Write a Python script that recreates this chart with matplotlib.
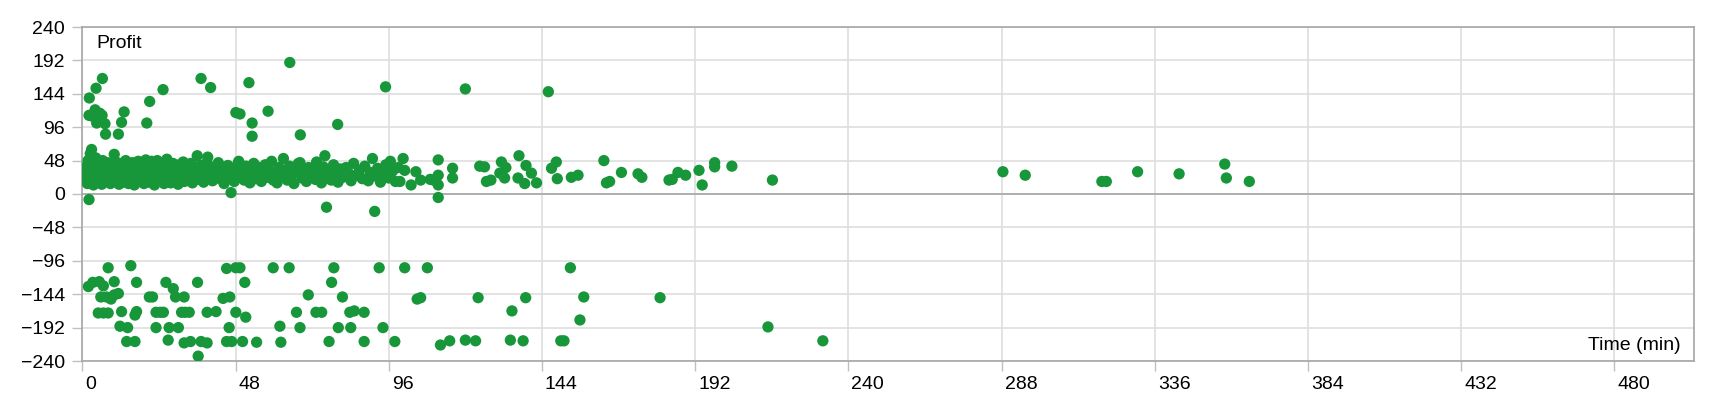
import matplotlib
matplotlib.use('Agg')
import matplotlib.pyplot as plt
import matplotlib.transforms as mtransforms

plt.rcParams['font.family'] = ['Liberation Sans', 'DejaVu Sans']

""" Trades: time in trade (min) and profit """

# dense band of small winners, 0-100 min
band_t = [1.0, 1.2, 1.4, 1.6, 1.8, 2.0, 2.3, 2.5, 2.7, 2.9, 3.1, 3.3, 3.5, 3.8, 4.0, 4.2,
          4.6, 4.9, 5.2, 5.5, 5.8, 6.1, 6.4, 6.7, 7.0, 7.3, 7.6, 7.9, 8.2,
          8.5, 8.8, 9.1, 9.4, 9.7, 10.0, 10.3, 10.6, 10.9, 11.2, 11.5, 11.8, 12.1,
          12.4, 12.7, 13.0, 13.3, 13.6, 13.9, 14.2, 14.5, 14.8, 15.1, 15.4, 15.7, 16.0,
          16.3, 16.6, 16.9, 17.2, 17.5, 17.8, 18.1, 18.4, 18.7, 19.0, 19.3, 19.6, 19.9,
          20.2, 20.5, 20.8, 21.1, 21.4, 21.7, 22.0, 22.3, 22.6, 22.9, 23.2, 23.5, 23.8,
          24.1, 24.4, 24.7, 25.0, 25.3, 25.6, 25.9, 26.2, 26.5, 26.8, 27.1, 27.4, 27.7,
          28.0, 28.4, 28.8, 29.2, 29.6, 30.0, 30.4, 30.8, 31.2, 31.6, 32.0, 32.4,
          32.8, 33.2, 33.6, 34.0, 34.5, 35.0, 35.5, 36.0, 36.5, 37.0, 37.5, 38.0, 38.5, 39.0, 39.3, 39.6,
          40.2, 40.8, 41.4, 42.0, 42.6, 43.2, 43.8, 44.4, 45.0, 45.6, 46.2, 46.6, 47.0, 47.6, 48.2,
          48.8, 49.0, 49.5, 50.1, 50.7, 51.3, 51.9, 52.5, 53.1, 53.7, 54.3, 54.9, 55.5,
          56.1, 56.7, 57.3, 57.9, 58.5, 59.3, 59.8, 60.4, 61.0, 61.6, 62.2, 63.0, 63.5,
          64.2, 64.9, 65.6, 66.3, 67.0, 67.7, 68.2, 68.8, 69.5, 70.2, 70.9, 71.6, 72.3,
          73.0, 73.4, 74.2, 74.9, 75.5, 76.0, 76.5, 77.2, 78.0, 78.7, 79.4, 80.1,
          80.8, 81.6, 82.6, 83.4, 84.2, 85.0, 85.9, 86.8, 87.7, 88.5, 89.6, 90.2, 90.9,
          91.6, 92.5, 93.4, 94.2, 95.1, 96.0, 96.5, 97.2, 98.1, 99.0]
band_p = [22, 31, 40, 15, 48, 26, 35, 58, 19, 64, 44, 29, 13, 38, 22, 52,
          33, 17, 43, 27, 36, 14, 48, 24, 31, 40, 19, 45, 28,
          36, 15, 23, 42, 32, 57, 18, 46, 27, 38, 14, 33, 22,
          44, 29, 17, 37, 48, 24, 32, 15, 41, 27, 20, 45, 34,
          13, 39, 25, 30, 47, 18, 36, 22, 43, 28, 15, 38, 49,
          24, 33, 17, 42, 28, 47, 20, 35, 13, 40, 26, 48, 31,
          19, 38, 44, 23, 29, 15, 42, 35, 50, 21, 27, 38, 16,
          32, 44, 20, 27, 37, 14, 42, 24, 33, 46, 18, 28,
          38, 22, 31, 44, 16, 27, 36, 55, 21, 41, 30, 17, 35, 45, 53, 24,
          32, 19, 39, 27, 45, 22, 34, 15, 29, 41, 24, 2, 36, 18, 30,
          44, 47, 25, 35, 20, 40, 28, 16, 33, 44, 22, 30, 38,
          18, 27, 42, 24, 34, 47, 20, 30, 16, 38, 25, 51, 32,
          20, 40, 27, 15, 35, 44, 45, 23, 31, 18, 38, 26, 34,
          21, 46, 30, 16, 39, 55, 25, 33, 20, 42, 28, 17,
          36, 24, 38, 30, 19, 44, 27, 34, 22, 40, 19, 31, 51,
          26, 37, 17, 29, 42, 23, 47, 33, 18, 38]

# longer trades, 100 min and up
long_t = [100.5, 101, 99.5, 103, 104.5, 106, 109, 110, 111.5, 111.5, 111.5, 116, 116,
          124.5, 126, 126.6, 128, 131.3, 132.7, 130.8, 132.3, 136.8, 139, 136.5, 138.6,
          140.7, 142.3, 147, 148.5, 148.8, 153.2, 155.3, 163.4, 164.2, 165.2, 168.9,
          174.1, 175.3, 183.8, 184.8, 186.6, 189, 193.2, 194.2, 198.1, 198.1, 203.5, 216.2,
          288.4, 295.4, 319.4, 320.8, 330.6, 343.6, 357.9, 358.4, 365.6]
long_p = [51, 34, 18, 13, 32, 20, 21, 20, 49, 27, 13, 37, 23,
          40, 39, 18, 20, 46, 38, 30, 23, 55, 41, 23, 15,
          30, 16, 37, 46, 22, 24, 27, 48, 16, 18, 31,
          29, 24, 20, 21, 31, 27, 34, 13, 45, 39, 40, 20,
          32, 27, 18, 18, 32, 29, 43, 23, 18]

# big winners and small losers
pos_t = [2.2, 4.3, 6.3, 2.1, 3.0, 4.0, 4.6, 5.5, 6.2, 4.5, 7.1, 7.3, 11.3, 12.3, 13.1,
         20.2, 21.1, 25.3, 37.2, 40.2, 48.1, 49.4, 52.2, 53.2, 53.2, 58.2, 65.0, 68.3,
         80.0, 95.0, 120.0, 146.0,
         2.1, 76.5, 91.6, 111.5]
pos_p = [138, 152, 166, 113, 112, 121, 113, 116, 113, 102, 101, 86, 86, 103, 118,
         102, 133, 150, 166, 153, 117, 115, 160, 102, 83, 119, 189, 85,
         100, 154, 151, 147,
         -8, -19, -25, -5]

# losing trades
neg_t = [1.9, 3.3, 5.3, 6.6, 5.8, 5.0, 6.6, 8.1, 8.1, 7.6, 9.0, 10.0, 10.0, 11.3, 12.3,
         11.8, 14.2, 15.2, 17.0, 17.0, 16.5, 13.9, 16.5, 21.0, 22.0, 23.1, 23.1, 24.4,
         25.4, 26.2, 26.9, 27.2, 28.5, 29.2, 31.9, 30.1, 31.1, 32.2, 33.5, 31.9, 33.9,
         36.1, 36.3, 37.2, 39.1, 39.1, 41.9, 44.1, 45.2, 46.2, 46.0, 45.2, 46.8, 48.1,
         48.1, 49.4, 50.9, 51.2, 50.2, 54.6, 59.8, 61.9, 62.2, 64.8, 67.1, 68.2, 70.8,
         73.2, 75.0, 77.3, 78.1, 78.8, 81.5, 80.2, 83.8, 85.2, 84.1, 88.3, 88.3, 93.0,
         94.2, 97.9, 101.0, 108.1, 104.9, 106.0, 112.2, 115.1, 120.0, 123.2, 124.0,
         134.1, 138.1, 134.6, 138.9, 149.9, 150.9, 152.9, 157.1, 155.9, 181.0, 214.8, 232.0]
neg_p = [-133, -127, -126, -132, -148, -171, -171, -171, -106, -148, -151, -126, -145, -143, -169,
         -190, -192, -103, -127, -169, -174, -212, -212, -148, -148, -192, -170, -170,
         -170, -127, -210, -192, -136, -148, -148, -192, -170, -170, -170, -214, -212,
         -127, -233, -212, -214, -170, -169, -150, -107, -148, -192, -212, -212, -170,
         -106, -106, -127, -177, -212, -213, -106, -190, -213, -106, -170, -192, -145,
         -170, -170, -212, -127, -106, -148, -192, -170, -168, -192, -170, -212, -106,
         -192, -212, -106, -106, -151, -149, -217, -211, -210, -211, -149,
         -210, -211, -168, -149, -211, -211, -106, -148, -181, -149, -191, -211]

xticks = [0, 48, 96, 144, 192, 240, 288, 336, 384, 432, 480]
yticks = [-240, -192, -144, -96, -48, 0, 48, 96, 144, 192, 240]

green = '#17963a'
edge = '#a6a6a6'

fig = plt.figure(figsize=(17.2, 4), dpi=100)
ax = fig.add_axes([82.3 / 1720, 1 - 361 / 400, (1694.3 - 82.3) / 1720, (361 - 27) / 400])

for t, p in [(band_t, band_p), (long_t, long_p), (pos_t, pos_p), (neg_t, neg_p)]:
    ax.scatter(t, p, s=66, c=green, edgecolors='none', zorder=3)

ax.set_xlim(0, 505)
ax.set_ylim(-240, 240)
ax.set_xticks(xticks)
ax.set_yticks(yticks)
ax.grid(True, color='#dedede', linewidth=1.2, zorder=0)
ax.set_axisbelow(True)
ax.axhline(0, color=edge, linewidth=1.2, zorder=1)

for s in ax.spines.values():
    s.set_color(edge)
    s.set_linewidth(1.2)

ax.tick_params(axis='both', direction='out', length=7.5, width=1.0, color='#c0c0c0',
               labelsize=14, labelcolor='black')
ax.tick_params(axis='y', pad=5)
ax.tick_params(axis='x', pad=3)

# x labels sit just right of their tick
off = mtransforms.ScaledTranslation(3 / 100, 0, fig.dpi_scale_trans)
for lab in ax.get_xticklabels():
    lab.set_ha('left')
    lab.set_transform(lab.get_transform() + off)

fig.text(96 / 1720, 1 - 44 / 400, 'Profit', fontsize=14, ha='left', va='center')
fig.text(1681 / 1720, 1 - 346 / 400, 'Time (min)', fontsize=14, ha='right', va='center')

fig.savefig('out.png', dpi=100)
